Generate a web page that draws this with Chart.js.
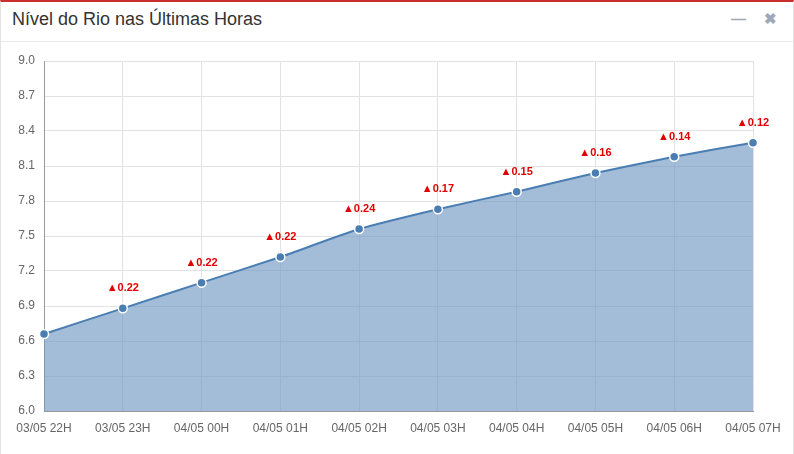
<!DOCTYPE html>
<html>
<head>
<meta charset="utf-8">
<script src="https://cdn.jsdelivr.net/npm/chart.js@4"></script>
<style>
    body { margin: 0; background: #fff; font-family: "Helvetica Neue", Arial, "Liberation Sans", sans-serif; }
    .panel { position: absolute; left: 0; top: 0; width: 792px; height: 452px; border: 1px solid #e3e3e3; border-top: 2px solid #c9302c; }
    .head { height: 39px; border-bottom: 1px solid #eaeaea; position: relative; }
    .head h3 { margin: 0; position: absolute; left: 11px; top: 7px; font-size: 18px; font-weight: normal; color: #333; }
    .tools { position: absolute; right: 16px; top: 8px; color: #a0a8b8; font-size: 15px; font-weight: bold; }
    .tools span { margin-left: 18px; }
    #wrap { position: absolute; left: 0; top: 40px; width: 792px; height: 412px; }
</style>
</head>
<body>
<div class="panel">
    <div class="head">
        <h3>Nível do Rio nas Últimas Horas</h3>
        <div class="tools"><span>&#8212;</span><span>&#10006;</span></div>
    </div>
    <div id="wrap"><canvas id="chart"></canvas></div>
</div>
<script>
// Horários e níveis do rio
const horas = ['03/05 22H', '03/05 23H', '04/05 00H', '04/05 01H', '04/05 02H', '04/05 03H', '04/05 04H', '04/05 05H', '04/05 06H', '04/05 07H'];
const niveis = [6.66, 6.88, 7.10, 7.32, 7.56, 7.73, 7.88, 8.04, 8.18, 8.30];
const variacoes = [null, 0.22, 0.22, 0.22, 0.24, 0.17, 0.15, 0.16, 0.14, 0.12];

// Escreve a variação acima de cada ponto
const rotulos = {
    id: 'rotulos',
    afterDatasetsDraw(chart) {
        const ctx = chart.ctx;
        const meta = chart.getDatasetMeta(0);
        ctx.save();
        ctx.fillStyle = '#e00000';
        ctx.font = 'bold 11px Arial, "Liberation Sans", sans-serif';
        ctx.textAlign = 'center';
        ctx.textBaseline = 'middle';
        for (var i = 0; i < variacoes.length; i++) {
            if (variacoes[i] === null) continue;
            const p = meta.data[i];
            ctx.fillText('▲' + variacoes[i].toFixed(2), p.x, p.y - 20);
        }
        ctx.restore();
    }
};

new Chart(document.getElementById('chart'), {
    type: 'line',
    data: {
        labels: horas,
        datasets: [{
            data: niveis,
            borderColor: '#4a7eb3',
            borderWidth: 2,
            backgroundColor: 'rgba(114,152,194,0.65)',
            fill: 'origin',
            tension: 0.2,
            pointRadius: 4.5,
            pointBackgroundColor: '#4a7eb3',
            pointBorderColor: '#fff',
            pointBorderWidth: 1.5
        }]
    },
    options: {
        responsive: true,
        maintainAspectRatio: false,
        animation: false,
        layout: { padding: { top: 19, right: 40, bottom: 0, left: 0 } },
        plugins: { legend: { display: false }, tooltip: { enabled: false } },
        scales: {
            x: {
                afterFit(a) { a.height = 43; },
                grid: { color: '#e2e2e2', drawTicks: false },
                border: { color: '#999' },
                ticks: { color: '#666', font: { size: 12 }, padding: 10, maxRotation: 0 }
            },
            y: {
                min: 6.0, max: 9.0,
                afterFit(a) { a.width = 43; },
                grid: { color: '#e2e2e2', drawTicks: false },
                border: { color: '#999' },
                ticks: { stepSize: 0.3, color: '#666', font: { size: 12 }, padding: 9,
                    callback: v => v.toFixed(1) }
            }
        }
    },
    plugins: [rotulos]
});
</script>
</body>
</html>
